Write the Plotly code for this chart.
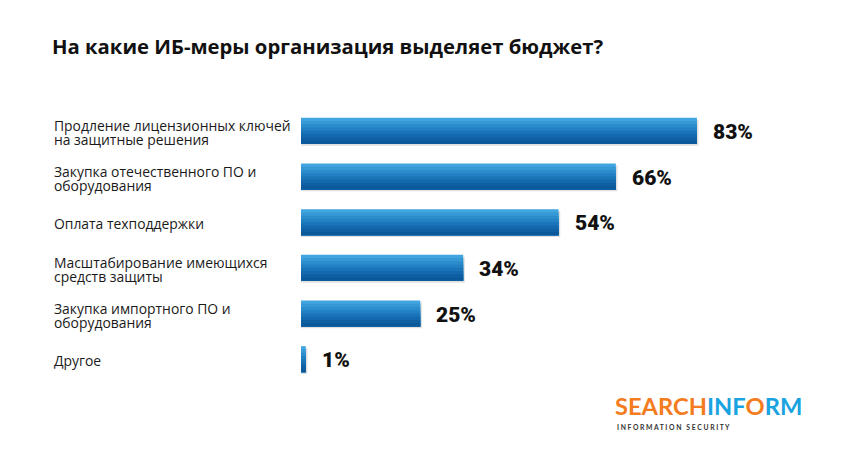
import plotly.graph_objects as go

categories = [
    "Продление лицензионных ключей на защитные решения",
    "Закупка отечественного ПО и оборудования",
    "Оплата техподдержки",
    "Масштабирование имеющихся средств защиты",
    "Закупка импортного ПО и оборудования",
    "Другое",
]
label_lines = [
    ["Продление лицензионных ключей", "на защитные решения"],
    ["Закупка отечественного ПО и", "оборудования"],
    ["Оплата техподдержки"],
    ["Масштабирование имеющихся", "средств защиты"],
    ["Закупка импортного ПО и", "оборудования"],
    ["Другое"],
]
values = [83, 66, 54, 34, 25, 1]
value_labels = [f"{v}%" for v in values]

title_text = "На какие ИБ-меры организация выделяет бюджет?"

stripe_colors = ["#41a5df", "#3699d6", "#2c8dcd", "#2280c3", "#1a74b8", "#1468ad", "#0f5fa3", "#0b589b"]
bar_w = 0.57

fig = go.Figure()

fig.add_trace(go.Bar(
    x=[v + 0.35 for v in values], y=categories, orientation="h",
    width=bar_w, offset=-bar_w / 2 + 0.04,
    marker=dict(color="rgba(0,0,0,0.12)", line=dict(width=0)),
    hoverinfo="skip", showlegend=False,
))

n = len(stripe_colors)
sw = bar_w / n
for i, c in enumerate(stripe_colors):
    fig.add_trace(go.Bar(
        x=values, y=categories, orientation="h",
        width=bar_w - i * sw, offset=-bar_w / 2 + i * sw,
        marker=dict(color=c, line=dict(width=0)),
        hoverinfo="skip", showlegend=False,
    ))

annotations = []
for cat, v, t in zip(categories, values, value_labels):
    annotations.append(dict(
        x=v, xref="x", y=cat, yref="y", xanchor="left", yanchor="middle",
        xshift=14, yshift=-1, text=t, showarrow=False,
        font=dict(family="Roboto", size=21, color="#111111", weight=900),
    ))

for cat, lines in zip(categories, label_lines):
    if len(lines) == 1:
        shifts = [-1]
    else:
        shifts = [5, -8.5]
    for line, ys in zip(lines, shifts):
        annotations.append(dict(
            x=0, xref="paper", xshift=-249, xanchor="left",
            y=cat, yref="y", yanchor="middle", yshift=ys,
            text=line, showarrow=False, align="left",
            font=dict(family="Open Sans", size=13.9, color="#1a1a1a"),
        ))

annotations.append(dict(
    xref="paper", yref="paper", x=0.655, y=-0.088, xanchor="left", yanchor="middle",
    showarrow=False,
    text="<span style='color:#f47c20'>SEARCH</span><span style='color:#1aa3e1'>INF</span>"
         "<span style='color:#f47c20'>O</span><span style='color:#1aa3e1'>RM</span>",
    font=dict(family="Lato", size=23.7, weight="bold"),
))
annotations.append(dict(
    xref="paper", yref="paper", x=0.658, y=-0.164, xanchor="left", yanchor="middle",
    showarrow=False,
    text="I N F O R M A T I O N   S E C U R I T Y",
    font=dict(family="Lato", size=6.8, color="#333333", weight="bold"),
))

fig.update_layout(
    width=838, height=448,
    paper_bgcolor="white", plot_bgcolor="white",
    margin=dict(l=293, r=68, t=100, b=74),
    barmode="overlay",
    showlegend=False,
    title=dict(text=title_text, x=44 / 838, xanchor="left", y=1 - 39 / 448, yanchor="middle",
               font=dict(family="Open Sans", size=20.3, color="#111111", weight="bold")),
    xaxis=dict(range=[0, 100], visible=False, showgrid=False, zeroline=False),
    yaxis=dict(categoryorder="array", categoryarray=categories, autorange="reversed",
               visible=False, showgrid=False),
    annotations=annotations,
)

fig.write_html("out.html")
